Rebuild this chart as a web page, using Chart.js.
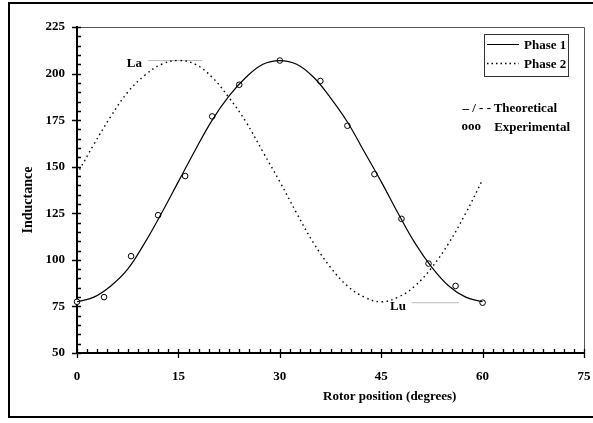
<!DOCTYPE html>
<html lang="en">
<head>
    <meta charset="UTF-8">
    <title>Inductance vs rotor position</title>
    <script src="https://cdn.jsdelivr.net/npm/chart.js"></script>
    <style>
        html, body { margin: 0; padding: 0; background: #fff; overflow: hidden; }
        canvas { display: block; }
    </style>
</head>
<body>
    <canvas id="inductanceChart" width="593" height="423"></canvas>

    <script>
        // theoretical curves, read every 2.5 degrees
        const angles = [0, 2.5, 5, 7.5, 10, 12.5, 15, 17.5, 20, 22.5, 25, 27.5, 30,
                        32.5, 35, 37.5, 40, 42.5, 45, 47.5, 50, 52.5, 55, 57.5, 60];
        const phase1 = [77.5, 80, 86, 95, 109, 125, 142, 159, 175, 188, 198, 205, 207,
                        205, 198, 187, 174, 158, 142, 125, 109, 96, 86, 80, 77.5];
        const phase2 = [146, 162, 177, 190, 199, 205, 207, 205, 198, 187, 174, 158, 142,
                        125, 109, 96, 86, 80, 77.5, 80, 86, 96, 109, 125, 143];

        // measured points (phase 1)
        const expAngles = [0, 4, 8, 12, 16, 20, 24, 30, 36, 40, 44, 48, 52, 56, 60];
        const expPhase1 = [77.5, 80, 102, 124, 145, 177, 194, 207, 196, 172, 146, 122, 98, 86, 77];

        // La / Lu reference marks
        const laAngles = [10.5, 18.5];
        const laValue = 207;
        const luAngles = [49.5, 56.5];
        const luValue = 77;

        const xTicks = [0, 15, 30, 45, 60, 75];
        const yTicks = [50, 75, 100, 125, 150, 175, 200, 225];

        const serif = '"Liberation Serif", "Times New Roman", serif';
        const pairs = (xs, ys) => xs.map((x, i) => ({ x: x, y: Array.isArray(ys) ? ys[i] : ys }));

        // frame, tick marks, legend and notes
        const decorations = {
            id: 'decorations',
            beforeDraw(chart) {
                const c = chart.ctx;
                c.save();
                c.fillStyle = '#fff';
                c.fillRect(0, 0, chart.width, chart.height);
                c.strokeStyle = '#000';
                c.lineWidth = 2;
                c.strokeRect(9, 3, 600, 414);
                c.restore();
            },
            afterDraw(chart) {
                const c = chart.ctx;
                const xs = chart.scales.x, ys = chart.scales.y;
                const area = chart.chartArea;
                c.save();

                // top / right frame of plot
                c.strokeStyle = '#555';
                c.lineWidth = 1;
                c.beginPath();
                c.moveTo(area.left, area.top + 0.5);
                c.lineTo(area.right + 0.5, area.top + 0.5);
                c.lineTo(area.right + 0.5, area.bottom);
                c.stroke();

                // tick marks
                c.strokeStyle = '#000';
                c.lineWidth = 1.3;
                c.beginPath();
                for (let v = 0; v <= 75.01; v += 1.5) {
                    const px = Math.round(xs.getPixelForValue(v)) + 0.5;
                    const major = Math.abs(v / 15 - Math.round(v / 15)) < 0.001;
                    c.moveTo(px, area.bottom - 4);
                    c.lineTo(px, area.bottom + (major ? 5 : 0));
                }
                for (let v = 50; v <= 225.01; v += 5) {
                    const py = Math.round(ys.getPixelForValue(v)) + 0.5;
                    const major = v % 25 === 0;
                    c.moveTo(area.left - (major ? 5 : 0), py);
                    c.lineTo(area.left + 4, py);
                }
                c.stroke();

                c.fillStyle = '#000';
                c.font = 'bold 13px ' + serif;
                c.textBaseline = 'middle';

                // axis titles
                c.textAlign = 'left';
                c.fillText('Rotor position (degrees)', 323, 397);
                c.save();
                c.translate(28, 200);
                c.rotate(-Math.PI / 2);
                c.textAlign = 'center';
                c.font = 'bold 14px ' + serif;
                c.fillText('Inductance', 0, 0);
                c.restore();

                // La / Lu labels
                c.textAlign = 'right';
                c.fillText('La', xs.getPixelForValue(laAngles[0]) - 6, ys.getPixelForValue(laValue) + 3);
                c.textAlign = 'left';
                c.fillText('Lu', xs.getPixelForValue(46.3), ys.getPixelForValue(luValue) + 4);

                // legend box
                c.strokeStyle = '#333';
                c.lineWidth = 1;
                c.strokeRect(484.5, 34.5, 84, 42);
                c.strokeStyle = '#000';
                c.beginPath();
                c.moveTo(487, 44.5);
                c.lineTo(519, 44.5);
                c.stroke();
                c.setLineDash([1.5, 3]);
                c.lineWidth = 1.3;
                c.beginPath();
                c.moveTo(487, 63.5);
                c.lineTo(519, 63.5);
                c.stroke();
                c.setLineDash([]);
                c.fillText('Phase 1', 524, 46);
                c.fillText('Phase 2', 524, 65);

                // notes
                c.textAlign = 'right';
                c.fillText('Theoretical', 557, 109);
                c.fillText('Experimental', 570, 128);
                c.fillText('\u2013 / - -', 491, 109);
                c.fillText('ooo', 481, 127);

                c.restore();
            }
        };

        const ctx = document.getElementById('inductanceChart').getContext('2d');

        const inductanceChart = new Chart(ctx, {
            type: 'line',
            data: {
                datasets: [
                    {
                        label: 'Phase 1',
                        data: pairs(angles, phase1),
                        borderColor: '#000',
                        borderWidth: 1.2,
                        pointRadius: 0,
                        tension: 0.4,
                        clip: false
                    },
                    {
                        label: 'Phase 2',
                        data: pairs(angles, phase2),
                        borderColor: '#000',
                        borderWidth: 1.4,
                        borderDash: [1.5, 3.5],
                        pointRadius: 0,
                        tension: 0.4,
                        clip: false
                    },
                    {
                        label: 'Experimental',
                        data: pairs(expAngles, expPhase1),
                        showLine: false,
                        pointRadius: 2.8,
                        pointBorderWidth: 1,
                        pointBackgroundColor: '#fff',
                        pointBorderColor: '#000',
                        clip: false
                    },
                    {
                        label: 'La',
                        data: pairs(laAngles, laValue),
                        borderColor: '#aaa',
                        borderWidth: 0.8,
                        pointRadius: 0
                    },
                    {
                        label: 'Lu',
                        data: pairs(luAngles, luValue),
                        borderColor: '#aaa',
                        borderWidth: 0.8,
                        pointRadius: 0
                    }
                ]
            },
            options: {
                responsive: false,
                animation: false,
                layout: { padding: { left: 37, top: 27, right: 9, bottom: 35 } },
                plugins: {
                    legend: { display: false },
                    tooltip: { enabled: false }
                },
                scales: {
                    x: {
                        type: 'linear',
                        min: 0,
                        max: 75,
                        afterFit: s => { s.height = 35; },
                        afterBuildTicks: s => { s.ticks = xTicks.map(v => ({ value: v })); },
                        ticks: {
                            color: '#000',
                            padding: 0,
                            font: { family: serif, size: 13, weight: 'bold' }
                        },
                        // invisible tick marks only push the labels down
                        grid: { display: true, drawOnChartArea: false, drawTicks: true, tickLength: 16, tickColor: 'rgba(0,0,0,0)' },
                        border: { display: true, color: '#000', width: 2 }
                    },
                    y: {
                        min: 50,
                        max: 225,
                        afterFit: s => { s.width = 40; },
                        afterBuildTicks: s => { s.ticks = yTicks.map(v => ({ value: v })); },
                        ticks: {
                            color: '#000',
                            padding: 12,
                            font: { family: serif, size: 13, weight: 'bold' }
                        },
                        grid: { display: false, drawTicks: false },
                        border: { display: true, color: '#000', width: 2 }
                    }
                }
            },
            plugins: [decorations]
        });
    </script>
</body>
</html>
